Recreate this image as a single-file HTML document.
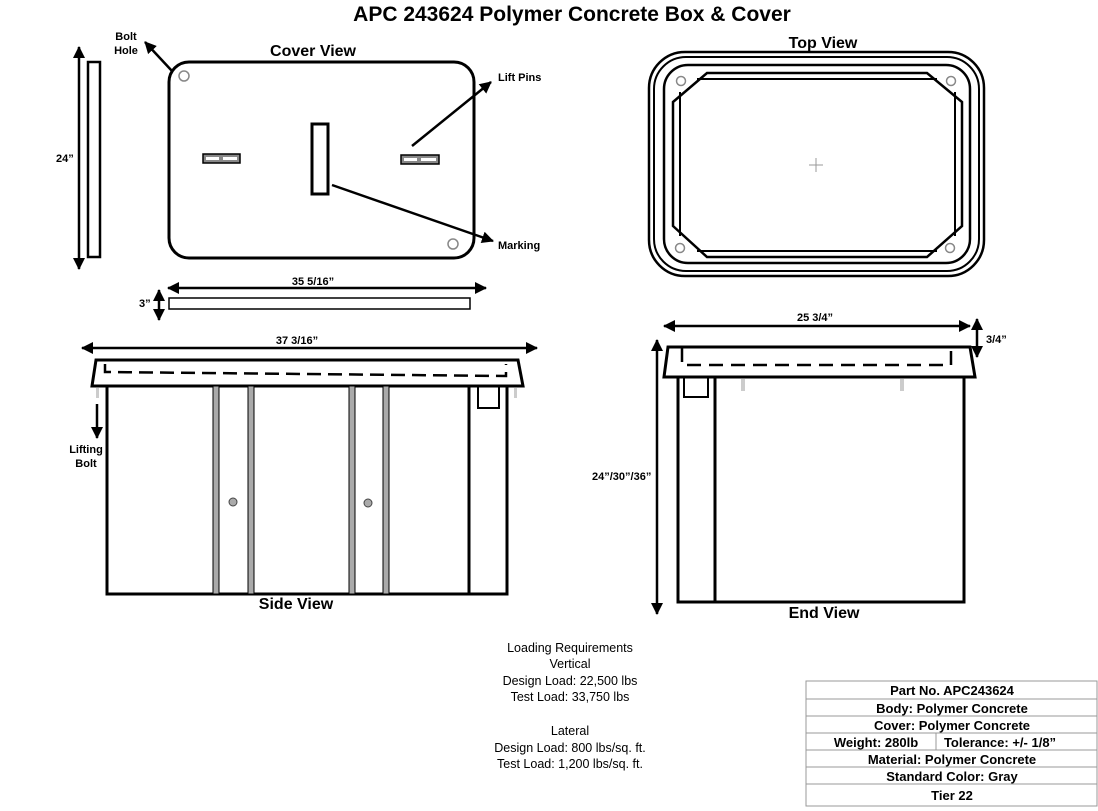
<!DOCTYPE html>
<html><head><meta charset="utf-8"><style>
body{margin:0;background:#fff;}
svg{display:block;font-family:"Liberation Sans",Arial,sans-serif;}
.b{font-weight:bold}
</style></head><body>
<svg width="1098" height="811" viewBox="0 0 1098 811" xmlns="http://www.w3.org/2000/svg">
<defs>
<marker id="a" markerWidth="12" markerHeight="12" refX="11" refY="6" orient="auto" markerUnits="userSpaceOnUse"><path d="M0,0 L12,6 L0,12z" fill="#000"/></marker>
<marker id="as" markerWidth="12" markerHeight="12" refX="1" refY="6" orient="auto" markerUnits="userSpaceOnUse"><path d="M12,0 L0,6 L12,12z" fill="#000"/></marker>
</defs>
<text x="572" y="21" text-anchor="middle" class="b" font-size="21">APC 243624 Polymer Concrete Box &amp; Cover</text>

<!-- Cover view -->
<text x="313" y="56" text-anchor="middle" class="b" font-size="16">Cover View</text>
<text x="126" y="40" text-anchor="middle" class="b" font-size="11">Bolt</text>
<text x="126" y="54" text-anchor="middle" class="b" font-size="11">Hole</text>
<line x1="172" y1="71" x2="145" y2="42" stroke="#000" stroke-width="2.5" marker-end="url(#a)"/>
<rect x="169" y="62" width="305" height="196" rx="20" fill="none" stroke="#000" stroke-width="3"/>
<circle cx="184" cy="76" r="5" fill="none" stroke="#888" stroke-width="1.5"/>
<circle cx="453" cy="244" r="5" fill="none" stroke="#888" stroke-width="1.5"/>
<rect x="203" y="154" width="37" height="9" fill="#888" stroke="#000" stroke-width="1.5"/>
<rect x="206" y="157" width="13" height="3" fill="#fff"/><rect x="223" y="157" width="14" height="3" fill="#fff"/>
<rect x="401" y="155" width="38" height="9" fill="#888" stroke="#000" stroke-width="1.5"/>
<rect x="404" y="158" width="13" height="3" fill="#fff"/><rect x="421" y="158" width="15" height="3" fill="#fff"/>
<rect x="312" y="124" width="16" height="70" fill="none" stroke="#000" stroke-width="3"/>
<line x1="412" y1="146" x2="491" y2="82" stroke="#000" stroke-width="2.5" marker-end="url(#a)"/>
<text x="498" y="81" class="b" font-size="11">Lift Pins</text>
<line x1="332" y1="185" x2="493" y2="241" stroke="#000" stroke-width="2.5" marker-end="url(#a)"/>
<text x="498" y="249" class="b" font-size="11">Marking</text>
<rect x="88" y="62" width="12" height="195" fill="none" stroke="#000" stroke-width="2.5"/>
<line x1="79" y1="47" x2="79" y2="269" stroke="#000" stroke-width="2.5" marker-start="url(#as)" marker-end="url(#a)"/>
<text x="56" y="162" class="b" font-size="11">24”</text>
<line x1="168" y1="288" x2="486" y2="288" stroke="#000" stroke-width="2.5" marker-start="url(#as)" marker-end="url(#a)"/>
<text x="313" y="285" text-anchor="middle" class="b" font-size="11">35 5/16”</text>
<rect x="169" y="298" width="301" height="11" fill="none" stroke="#000" stroke-width="1.5"/>
<line x1="159" y1="290" x2="159" y2="320" stroke="#000" stroke-width="2.5" marker-start="url(#as)" marker-end="url(#a)"/>
<text x="139" y="307" class="b" font-size="11">3”</text>

<!-- Top view -->
<text x="823" y="48" text-anchor="middle" class="b" font-size="16">Top View</text>
<rect x="649" y="52" width="335" height="224" rx="36" fill="none" stroke="#000" stroke-width="2.5"/>
<rect x="654" y="57" width="325" height="214" rx="32" fill="none" stroke="#000" stroke-width="2"/>
<rect x="664" y="65" width="306" height="198" rx="24" fill="none" stroke="#000" stroke-width="2.5"/>
<path d="M707,73 L927,73 L962,102 L962,226 L927,257 L707,257 L673,226 L673,102 Z" fill="none" stroke="#000" stroke-width="2.5"/>
<path d="M680,92 L680,236 M955,92 L955,236 M697,79 L937,79 M697,251 L937,251" fill="none" stroke="#000" stroke-width="2"/>
<circle cx="681" cy="81" r="4.5" fill="none" stroke="#888" stroke-width="1.5"/>
<circle cx="951" cy="81" r="4.5" fill="none" stroke="#888" stroke-width="1.5"/>
<circle cx="680" cy="248" r="4.5" fill="none" stroke="#888" stroke-width="1.5"/>
<circle cx="950" cy="248" r="4.5" fill="none" stroke="#888" stroke-width="1.5"/>
<line x1="809" y1="165" x2="823" y2="165" stroke="#999"/><line x1="816" y1="158" x2="816" y2="172" stroke="#999"/>

<!-- Side view -->
<line x1="82" y1="348" x2="537" y2="348" stroke="#000" stroke-width="2.5" marker-start="url(#as)" marker-end="url(#a)"/>
<text x="297" y="344" text-anchor="middle" class="b" font-size="11">37 3/16”</text>
<path d="M96,360 L518,360 L523,386 L92,386 Z" fill="none" stroke="#000" stroke-width="3"/>
<path d="M105,364 L105,372 L506,376 L506,364" fill="none" stroke="#000" stroke-width="2.5" stroke-dasharray="14,7"/>
<rect x="107" y="386" width="400" height="208" fill="none" stroke="#000" stroke-width="3"/>
<rect x="213" y="386" width="6" height="208" fill="#aaa" stroke="#000" stroke-width="1"/>
<rect x="248" y="386" width="6" height="208" fill="#aaa" stroke="#000" stroke-width="1"/>
<rect x="349" y="386" width="6" height="208" fill="#aaa" stroke="#000" stroke-width="1"/>
<rect x="383" y="386" width="6" height="208" fill="#aaa" stroke="#000" stroke-width="1"/>
<line x1="469" y1="386" x2="469" y2="594" stroke="#000" stroke-width="3"/>
<rect x="478" y="386" width="21" height="22" fill="none" stroke="#000" stroke-width="2"/>
<circle cx="233" cy="502" r="4" fill="#aaa" stroke="#444"/>
<circle cx="368" cy="503" r="4" fill="#aaa" stroke="#444"/>
<rect x="96" y="388" width="3" height="10" fill="#ccc"/><rect x="514" y="388" width="3" height="10" fill="#ccc"/>
<line x1="97" y1="404" x2="97" y2="438" stroke="#000" stroke-width="2.5" marker-end="url(#a)"/>
<text x="86" y="453" text-anchor="middle" class="b" font-size="11">Lifting</text>
<text x="86" y="467" text-anchor="middle" class="b" font-size="11">Bolt</text>
<text x="296" y="609" text-anchor="middle" class="b" font-size="16">Side View</text>

<!-- End view -->
<line x1="664" y1="326" x2="970" y2="326" stroke="#000" stroke-width="2.5" marker-start="url(#as)" marker-end="url(#a)"/>
<text x="815" y="321" text-anchor="middle" class="b" font-size="11">25 3/4”</text>
<line x1="977" y1="319" x2="977" y2="357" stroke="#000" stroke-width="2.5" marker-start="url(#as)" marker-end="url(#a)"/>
<text x="986" y="343" class="b" font-size="11">3/4”</text>
<path d="M668,347 L970,347 L975,377 L664,377 Z" fill="none" stroke="#000" stroke-width="3"/>
<path d="M682,348 L682,365 L951,365 L951,348" fill="none" stroke="#000" stroke-width="2.5" stroke-dasharray="14,8"/>
<rect x="678" y="377" width="286" height="225" fill="none" stroke="#000" stroke-width="3"/>
<line x1="715" y1="377" x2="715" y2="602" stroke="#000" stroke-width="3"/>
<rect x="684" y="377" width="24" height="20" fill="none" stroke="#000" stroke-width="2"/>
<rect x="741" y="379" width="4" height="12" fill="#ccc"/><rect x="900" y="379" width="4" height="12" fill="#ccc"/>
<line x1="657" y1="340" x2="657" y2="614" stroke="#000" stroke-width="2.5" marker-start="url(#as)" marker-end="url(#a)"/>
<text x="592" y="480" class="b" font-size="11">24”/30”/36”</text>
<text x="824" y="618" text-anchor="middle" class="b" font-size="16">End View</text>

<!-- Loading -->
<g font-size="12.5" text-anchor="middle">
<text x="570" y="652">Loading Requirements</text>
<text x="570" y="668">Vertical</text>
<text x="570" y="685">Design Load: 22,500 lbs</text>
<text x="570" y="701">Test Load: 33,750 lbs</text>
<text x="570" y="735">Lateral</text>
<text x="570" y="752">Design Load: 800 lbs/sq. ft.</text>
<text x="570" y="768">Test Load: 1,200 lbs/sq. ft.</text>
</g>

<!-- Table -->
<g stroke="#999" stroke-width="1" fill="none">
<rect x="806" y="681" width="291" height="125"/>
<line x1="806" y1="699" x2="1097" y2="699"/><line x1="806" y1="716" x2="1097" y2="716"/>
<line x1="806" y1="733" x2="1097" y2="733"/><line x1="806" y1="750" x2="1097" y2="750"/>
<line x1="806" y1="767" x2="1097" y2="767"/><line x1="806" y1="784" x2="1097" y2="784"/>
<line x1="936" y1="733" x2="936" y2="750"/>
</g>
<g class="b" font-size="13" text-anchor="middle">
<text x="952" y="695">Part No. APC243624</text>
<text x="952" y="713">Body: Polymer Concrete</text>
<text x="952" y="730">Cover: Polymer Concrete</text>
<text x="876" y="747">Weight: 280lb</text>
<text x="1000" y="747">Tolerance: +/- 1/8”</text>
<text x="952" y="764">Material: Polymer Concrete</text>
<text x="952" y="781">Standard Color: Gray</text>
<text x="952" y="800">Tier 22</text>
</g>
</svg>
</body></html>
